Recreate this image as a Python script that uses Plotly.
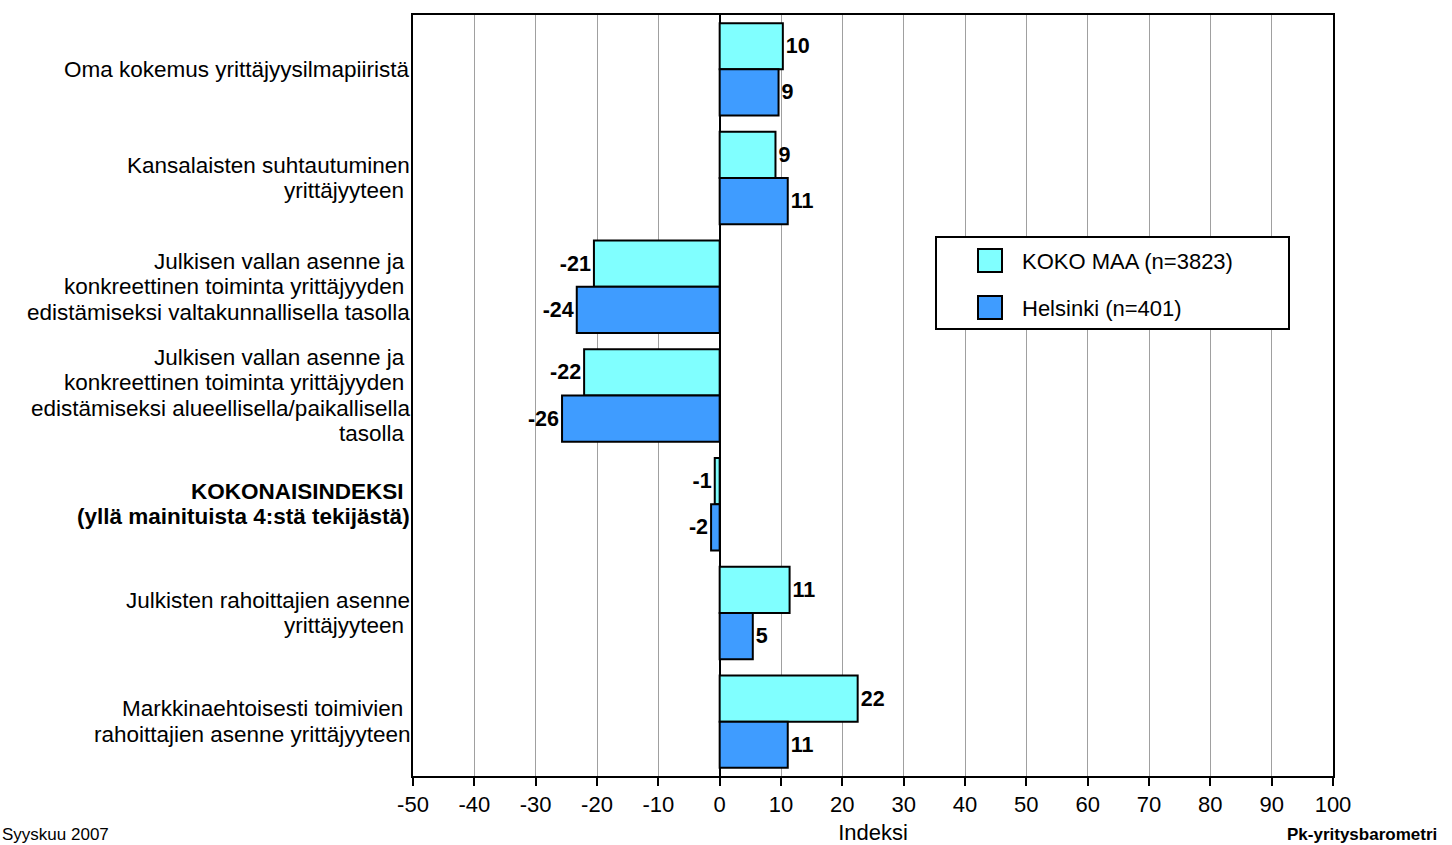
import plotly.graph_objects as go

NB = "\u00a0"
categories = [
    "Oma kokemus yrittäjyysilmapiiristä",
    "Kansalaisten suhtautuminen<br>yrittäjyyteen" + NB,
    "Julkisen vallan asenne ja" + NB + "<br>konkreettinen toiminta yrittäjyyden" + NB + "<br>edistämiseksi valtakunnallisella tasolla",
    "Julkisen vallan asenne ja" + NB + "<br>konkreettinen toiminta yrittäjyyden" + NB + "<br>edistämiseksi alueellisella/paikallisella<br>tasolla" + NB,
    "<b>KOKONAISINDEKSI" + NB + "</b><br><b>(yllä mainituista 4:stä tekijästä)</b>",
    "Julkisten rahoittajien asenne<br>yrittäjyyteen" + NB,
    "Markkinaehtoisesti toimivien" + NB + "<br>rahoittajien asenne yrittäjyyteen",
]
series_names = ["KOKO MAA (n=3823)", "Helsinki (n=401)"]
koko_maa = [10.3, 9.1, -20.5, -22.1, -0.8, 11.4, 22.5]
helsinki = [9.6, 11.1, -23.3, -25.7, -1.4, 5.4, 11.1]
koko_maa_labels = ["10", "9", "-21", "-22", "-1", "11", "22"]
helsinki_labels = ["9", "11", "-24", "-26", "-2", "5", "11"]
x_ticks = list(range(-50, 101, 10))
colors = ["#80FFFF", "#3F9CFF"]

FONT = "Liberation Sans, Arial, sans-serif"

fig = go.Figure()
for name, vals, labs, col in [
    (series_names[0], koko_maa, koko_maa_labels, colors[0]),
    (series_names[1], helsinki, helsinki_labels, colors[1]),
]:
    fig.add_trace(go.Bar(
        y=categories, x=vals, orientation="h", name=name,
        marker=dict(color=col, line=dict(color="black", width=2)),
        text=labs, textposition="outside", cliponaxis=False,
        textfont=dict(family=FONT, size=21.5, color="black", weight="bold"),
        showlegend=False,
    ))

fig.update_layout(
    width=1452, height=845,
    margin=dict(l=413, r=119, t=15, b=69, autoexpand=False),
    plot_bgcolor="white", paper_bgcolor="white",
    barmode="group", bargap=0.15, bargroupgap=0,
    font=dict(family=FONT, size=22, color="black"),
    xaxis=dict(
        range=[-50, 100], tickvals=x_ticks, ticktext=[str(v) for v in x_ticks],
        showgrid=True, gridcolor="#A0A0A0", gridwidth=1,
        zeroline=True, zerolinecolor="black", zerolinewidth=2,
        showline=True, linecolor="black", linewidth=2, mirror=True,
        ticks="outside", ticklen=8, tickwidth=2, tickcolor="black",
        tickfont=dict(size=22),
        title=dict(text="Indeksi", font=dict(size=22), standoff=12),
    ),
    yaxis=dict(
        autorange="reversed", showgrid=False, zeroline=False,
        showline=True, linecolor="black", linewidth=2, mirror=True,
        ticks="", showticklabels=False,
    ),
)

annots = []
# category labels, one annotation per line, right aligned against the axis
LINE = 25.5
for cat in categories:
    lines = cat.split("<br>")
    n = len(lines)
    for i, ln in enumerate(lines):
        annots.append(dict(xref="paper", yref="y", x=0, y=cat, xanchor="right", yanchor="middle",
                           xshift=-2, yshift=((n - 1) / 2 - i) * LINE, text=ln, showarrow=False,
                           font=dict(size=22.5), borderpad=0))

# custom legend box
px2x = lambda p: (p - 413) / 920
py2y = lambda p: (776 - p) / 761
shapes = [
    dict(type="rect", xref="paper", yref="paper", x0=px2x(936), x1=px2x(1289),
         y0=py2y(329), y1=py2y(237), line=dict(color="black", width=2), fillcolor="white", layer="above"),
]
for i, (name, col) in enumerate(zip(series_names, colors)):
    top = 249 + i * 47
    shapes.append(dict(type="rect", xref="paper", yref="paper", x0=px2x(978), x1=px2x(1002),
                       y0=py2y(top + 23), y1=py2y(top), line=dict(color="black", width=2),
                       fillcolor=col, layer="above"))
    annots.append(dict(xref="paper", yref="paper", x=px2x(1021), y=py2y(top + 12),
                       xanchor="left", yanchor="middle", text=name, showarrow=False,
                       font=dict(size=22), borderpad=0))
annots.append(dict(xref="paper", yref="paper", x=px2x(1), y=py2y(834), xanchor="left",
                   yanchor="middle", text="Syyskuu 2007", showarrow=False, font=dict(size=17), borderpad=0))
annots.append(dict(xref="paper", yref="paper", x=px2x(1438), y=py2y(834), xanchor="right",
                   yanchor="middle", text="<b>Pk-yritysbarometri</b>", showarrow=False,
                   font=dict(size=17), borderpad=0))
fig.update_layout(shapes=shapes, annotations=annots)

fig.write_html("out.html", config={"displayModeBar": False},
               post_script="document.body.style.margin='0px';")
